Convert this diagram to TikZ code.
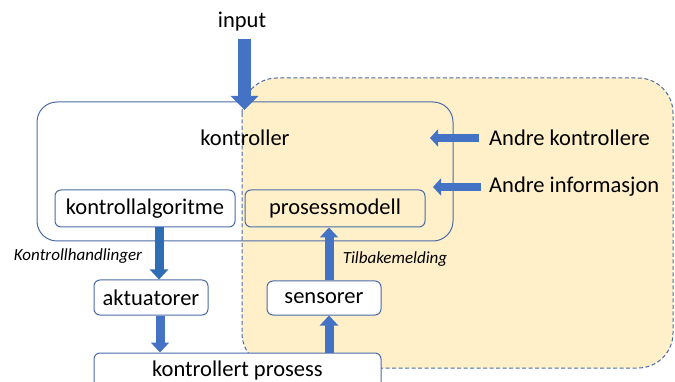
\documentclass[tikz,border=0pt]{standalone}
\usepackage{fontspec}
\setmainfont{Carlito}
\usetikzlibrary{arrows.meta}
\definecolor{bordc}{HTML}{4A6BA8}
\definecolor{arrc}{HTML}{4472C4}
\definecolor{arrc2}{HTML}{2E6DB4}
\definecolor{yel}{HTML}{FFF0CA}
\tikzset{
  box/.style={draw=bordc, line width=1pt, rounded corners=6pt, fill=white, inner sep=0pt, font=\fontsize{22.5}{22.5}\selectfont},
  lbl/.style={font=\fontsize{22.5}{22.5}\selectfont, inner sep=0pt},
  ilbl/.style={font=\fontsize{17}{17}\selectfont\itshape, inner sep=0pt},
  barrow/.style={draw=arrc, line width=9pt, -{Triangle[width=18pt,length=10pt]}},
  bigarrow/.style={draw=arrc, line width=13pt, -{Triangle[width=27pt,length=14pt]}},
  sidearrow/.style={draw=arrc, line width=8pt, -{Triangle[width=17pt,length=8pt]}},
}
\begin{document}
\begin{tikzpicture}[x=1pt,y=-1pt]
\useasboundingbox (0,0) rectangle (675,382);
% yellow region
\draw[fill=yel, draw=bordc, line width=1pt, dash pattern=on 4pt off 2.5pt, rounded corners=35pt] (242,78) rectangle (673,368);
% kontroller box
\draw[draw=bordc, line width=1pt, rounded corners=20pt] (37,102) rectangle (453,241);
\node[lbl] (ktrl) at (245,138) {kontroller};
\node[lbl] (inp) at (242,22) {input};

\node[box, minimum width=180pt, minimum height=37pt] (ka) at (145,208.5) {kontrollalgoritme};
\node[box, fill=yel, minimum width=180pt, minimum height=37pt] (pm) at (335,208.5) {prosessmodell};
\node[box, minimum width=114pt, minimum height=35pt] (akt) at (151,297.5) {aktuatorer};
\node[box, minimum width=114pt, minimum height=34pt] (sens) at (324,298) {sensorer};
\node[box, minimum width=287pt, minimum height=36pt] (kp) at (237.5,371) {kontrollert prosess};

\node[lbl, anchor=west] (ak) at (489,138) {Andre kontrollere};
\node[lbl, anchor=west] (ai) at (489,187) {Andre informasjon};

\node[ilbl] (kh) at (78,256) {Kontrollhandlinger};
\node[ilbl] (tb) at (395,259) {Tilbakemelding};

\coordinate (inptop) at (244.5,39);
\coordinate (inptip) at (244.5,110);
\draw[bigarrow] (inptop) -- (inptip);

\draw[barrow, draw=arrc2] ([xshift=14pt]ka.south) -- ([xshift=14pt]ka.south |- akt.north);
\draw[barrow] ([xshift=9pt]akt.south) -- ([xshift=9pt]akt.south |- kp.north);
\draw[barrow] ([xshift=5pt]sens.north) -- ([xshift=5pt]sens.north |- pm.south);
\draw[barrow] ([xshift=5pt]sens.north |- kp.north) -- ([xshift=5pt]sens.south);

\coordinate (akend) at (430,138);
\coordinate (aiend) at (433,187);
\draw[sidearrow] ([xshift=-10pt]ak.west) -- (akend);
\draw[sidearrow] ([xshift=-8pt]ai.west) -- (aiend);
\end{tikzpicture}
\end{document}
